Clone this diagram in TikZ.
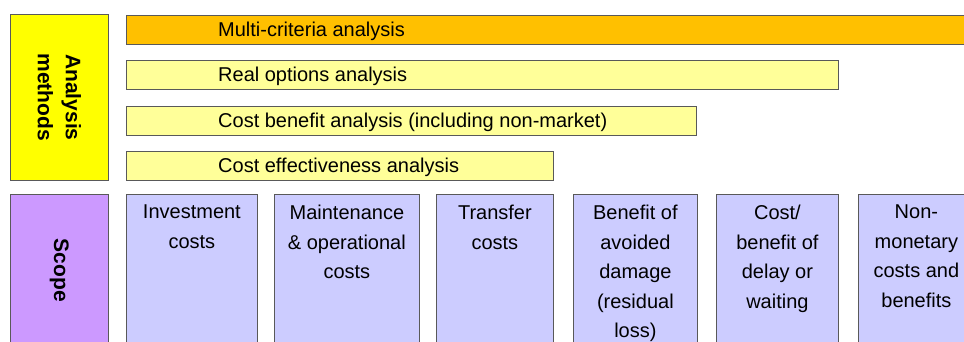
\documentclass[tikz,border=0pt]{standalone}
\usepackage{fontspec}
\setmainfont{Liberation Sans}
\definecolor{mcaorange}{HTML}{FFC000}
\definecolor{baryellow}{HTML}{FFFF99}
\definecolor{headyellow}{HTML}{FFFF00}
\definecolor{headpurple}{HTML}{CC99FF}
\definecolor{scopeblue}{HTML}{CCCCFF}
\tikzstyle{frame} = [rectangle, draw=black!65, line width=0.8pt, inner sep=0pt, anchor=north west]
\tikzstyle{bar} = [frame, minimum height=29pt, fill=baryellow]
\tikzstyle{barlabel} = [anchor=west, inner sep=0pt, xshift=92pt, yshift=-1pt, font=\fontsize{20}{24}\selectfont]
\tikzstyle{head} = [frame, minimum width=98pt]
\tikzstyle{headlabel} = [rotate=-90, align=center, inner sep=0pt, font=\fontsize{21}{28}\selectfont\bfseries]
\tikzstyle{item} = [frame, minimum height=170pt, fill=scopeblue]
\tikzstyle{itemlabel} = [anchor=north, inner ysep=11pt, inner xsep=0pt, align=center, font=\fontsize{20}{29.5}\selectfont, execute at begin node=\strut]

\begin{document}
\begin{tikzpicture}[x=1pt, y=-1pt]
            \clip (0,0) rectangle (964,341);
            % left headers
            \node [head, fill=headyellow, minimum height=166pt, label={[headlabel]center:Analysis\\methods}] at (10,14) (methods) {};
            \node [head, fill=headpurple, minimum height=152pt, label={[headlabel]center:Scope}] at (10,194) (scope) {};
            % analysis bars
            \node [bar, fill=mcaorange, minimum width=900pt, label={[barlabel]west:Multi-criteria analysis}] at (126,15) (mca) {};
            \node [bar, minimum width=712pt, label={[barlabel]west:Real options analysis}] at (126,60) (roa) {};
            \node [bar, minimum width=570pt, label={[barlabel]west:Cost benefit analysis (including non-market)}] at (126,106) (cba) {};
            \node [bar, minimum width=427pt, label={[barlabel]west:Cost effectiveness analysis}] at (126,151) (cea) {};
            % scope items
            \node [item, minimum width=131pt, label={[itemlabel]north:Investment\\costs}] at (126,194) (invest) {};
            \node [item, minimum width=145pt, label={[itemlabel]north:Maintenance\\\& operational\\costs}] at (274,194) (maint) {};
            \node [item, minimum width=117pt, label={[itemlabel]north:Transfer\\costs}] at (436,194) (transfer) {};
            \node [item, minimum width=124pt, label={[itemlabel]north:Benefit of\\avoided\\damage\\(residual\\loss)}] at (573,194) (damage) {};
            \node [item, minimum width=122pt, label={[itemlabel]north:Cost/\\benefit of\\delay or\\waiting}] at (716,194) (delay) {};
            \node [item, minimum width=116pt, label={[itemlabel]north:Non-\\monetary\\costs and\\benefits}] at (858,194) (nonmon) {};
\end{tikzpicture}
\end{document}
